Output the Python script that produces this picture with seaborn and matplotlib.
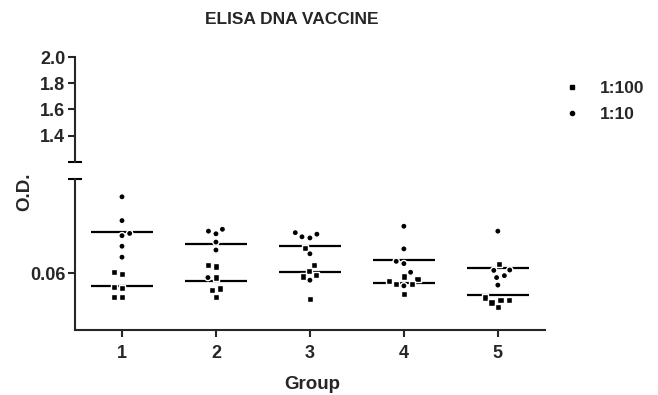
import numpy as np
import pandas as pd
import matplotlib
matplotlib.use('Agg')
import matplotlib.pyplot as plt
import seaborn as sns
from matplotlib.lines import Line2D
from matplotlib.markers import MarkerStyle

groups = ['1', '2', '3', '4', '5']
dilutions = ['1:100', '1:10']

# O.D. readings per group, six animals each
od_1_100 = [
    [0.0603, 0.0599, 0.0564, 0.0561, 0.0537, 0.0537],
    [0.0622, 0.0618, 0.0589, 0.0560, 0.0555, 0.0537],
    [0.0668, 0.0622, 0.0607, 0.0592, 0.0596, 0.0532],
    [0.0592, 0.0585, 0.0580, 0.0571, 0.0571, 0.0545],
    [0.0624, 0.0530, 0.0536, 0.0530, 0.0523, 0.0511],
]
od_1_10 = [
    [0.0803, 0.0740, 0.0706, 0.0700, 0.0672, 0.0643],
    [0.0717, 0.0712, 0.0705, 0.0683, 0.0662, 0.0589],
    [0.0704, 0.0694, 0.0697, 0.0708, 0.0652, 0.0582],
    [0.0725, 0.0665, 0.0632, 0.0626, 0.0603, 0.0567],
    [0.0712, 0.0609, 0.0608, 0.0594, 0.0589, 0.0569],
]

top_ticks = [1.4, 1.6, 1.8, 2.0]
bottom_ticks = [0.06]

rows = []
for g, a, b in zip(groups, od_1_100, od_1_10):
    rows += [(g, '1:100', v) for v in a]
    rows += [(g, '1:10', v) for v in b]
df = pd.DataFrame(rows, columns=['group', 'dilution', 'od'])

sns.set_style('ticks')
plt.rcParams['font.family'] = ['Liberation Sans', 'DejaVu Sans']
plt.rcParams['font.weight'] = 'bold'
plt.rcParams['axes.linewidth'] = 1.5
plt.rcParams['xtick.major.width'] = 1.5
plt.rcParams['ytick.major.width'] = 1.5

fig = plt.figure(figsize=(6.58, 3.95), dpi=100)
ax_top = fig.add_axes([0.114, 0.5906, 0.714, 0.265])
ax = fig.add_axes([0.114, 0.1646, 0.714, 0.382])

sns.swarmplot(data=df, x='group', y='od', hue='dilution', order=groups,
              hue_order=dilutions, palette=['black', 'black'], size=4.5,
              linewidth=1.0, edgecolor='white', legend=False, ax=ax)

# square markers for 1:100, dots for 1:10
ms_sq = MarkerStyle('s')
ms_ci = MarkerStyle('o')
sq = ms_sq.get_path().transformed(ms_sq.get_transform())
ci = ms_ci.get_path().transformed(ms_ci.get_transform())
for coll in ax.collections:
    offs = coll.get_offsets()
    if len(offs) == 0:
        continue
    g = groups[int(round(offs[0, 0]))]
    sub = df[df['group'] == g]
    coll.set_paths([sq if d == '1:100' else ci for d in sub['dilution']])

means = df.groupby(['group', 'dilution'])['od'].mean()
for i, g in enumerate(groups):
    for d in dilutions:
        ax.hlines(means[(g, d)], i - 0.33, i + 0.33, color='black', lw=1.6)

for a in (ax, ax_top):
    a.set_xlim(-0.5, 4.5)
    a.spines['right'].set_visible(False)
    a.spines['top'].set_visible(False)
    a.tick_params(axis='y', length=5, pad=2, labelsize=13)

ax_top.set_ylim(1.2, 2.0)
ax_top.set_yticks(top_ticks)
ax_top.set_yticklabels([f'{t:.1f}' for t in top_ticks])
ax_top.spines['bottom'].set_visible(False)
ax_top.set_xticks([])
ax_top.set_ylabel('')

ax.set_ylim(0.045, 0.085)
ax.set_yticks(bottom_ticks)
ax.set_yticklabels(['0.06'])
ax.tick_params(axis='x', length=5, pad=6, labelsize=13)
ax.set_ylabel('')
ax.set_xlabel('Group', fontsize=13.5, fontweight='bold')
ax.xaxis.label.set_va('center')
ax.xaxis.set_label_coords(0.506, -0.358)

# end caps of the broken axis
ax_top.plot([-0.014, 0.014], [0, 0], transform=ax_top.transAxes,
            color='black', lw=1.5, clip_on=False, solid_capstyle='butt')
ax.plot([-0.014, 0.014], [1, 1], transform=ax.transAxes,
        color='black', lw=1.5, clip_on=False, solid_capstyle='butt')

fig.text(0.443, 1 - 19 / 395, 'ELISA DNA VACCINE', ha='center', va='center',
         fontsize=12.5, fontweight='bold')
fig.text(24.5 / 658, 0.514, 'O.D.', rotation=90, ha='center', va='center',
         fontsize=13.5, fontweight='bold')

handles = [Line2D([], [], marker='s', color='black', linestyle='none', markersize=3),
           Line2D([], [], marker='o', color='black', linestyle='none', markersize=3)]
fig.legend(handles, dilutions, loc='upper left', bbox_to_anchor=(563 / 658, 0.795),
           frameon=False, borderpad=0, borderaxespad=0, handlelength=1.0,
           handletextpad=1.13, labelspacing=0.6,
           prop={'size': 12.5, 'weight': 'bold'})

fig.savefig('out.png', dpi=100)
